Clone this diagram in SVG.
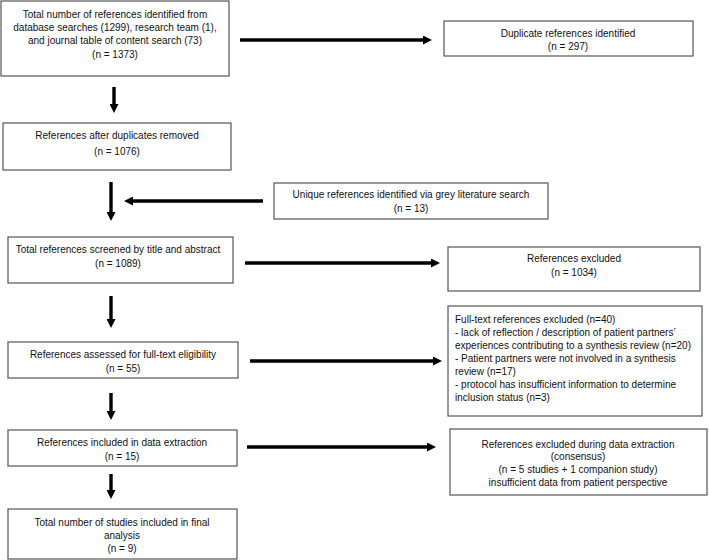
<svg xmlns="http://www.w3.org/2000/svg" width="709" height="560" viewBox="0 0 709 560">
<style>
rect.box{fill:#fff;stroke:#555;stroke-width:1.2}
text{font-family:"Liberation Sans",Arial,sans-serif;font-size:10px;fill:#111;text-anchor:middle}
text.l{text-anchor:start}
.conn line{stroke:#000;stroke-width:3.4}
</style>
<defs>
<marker id="ah" viewBox="0 0 10 10" refX="0" refY="5" markerWidth="9" markerHeight="9" markerUnits="userSpaceOnUse" orient="auto">
<path d="M0,0 L10,5 L0,10 z" fill="#000"/>
</marker>
</defs>
<rect width="709" height="560" fill="#fff"/>
<g class="conn">
<line x1="240" y1="40" x2="423" y2="40" marker-end="url(#ah)"/>
<line x1="114" y1="87" x2="114" y2="104" marker-end="url(#ah)"/>
<line x1="111" y1="182" x2="111" y2="212" marker-end="url(#ah)"/>
<line x1="263" y1="201" x2="133" y2="201" marker-end="url(#ah)"/>
<line x1="245" y1="263" x2="431" y2="263" marker-end="url(#ah)"/>
<line x1="111" y1="296" x2="111" y2="319" marker-end="url(#ah)"/>
<line x1="250" y1="361" x2="433" y2="361" marker-end="url(#ah)"/>
<line x1="111" y1="393" x2="111" y2="411" marker-end="url(#ah)"/>
<line x1="247" y1="447" x2="427" y2="447" marker-end="url(#ah)"/>
<line x1="111" y1="474" x2="111" y2="490" marker-end="url(#ah)"/>
</g>
<g id="n1"><rect class="box" x="1" y="1" width="228" height="75"/>
<text x="115" y="18">Total number of references identified from</text>
<text x="115" y="31">database searches (1299), research team (1),</text>
<text x="115" y="44">and journal table of content search (73)</text>
<text x="115" y="58">(n = 1373)</text></g>
<g id="n2"><rect class="box" x="444" y="21" width="249" height="35"/>
<text x="568" y="37">Duplicate references identified</text>
<text x="568" y="50">(n = 297)</text></g>
<g id="n3"><rect class="box" x="3" y="123" width="228" height="47"/>
<text x="117" y="139">References after duplicates removed</text>
<text x="117" y="155">(n = 1076)</text></g>
<g id="n4"><rect class="box" x="274" y="183" width="274" height="36"/>
<text x="411" y="198">Unique references identified via grey literature search</text>
<text x="411" y="212">(n = 13)</text></g>
<g id="n5"><rect class="box" x="8" y="237" width="225" height="46"/>
<text x="118" y="253">Total references screened by title and abstract</text>
<text x="118" y="267">(n = 1089)</text></g>
<g id="n6"><rect class="box" x="448" y="247" width="252" height="44"/>
<text x="574" y="262">References excluded</text>
<text x="574" y="276">(n = 1034)</text></g>
<g id="n7"><rect class="box" x="8" y="342" width="230" height="36"/>
<text x="123" y="358">References assessed for full-text eligibility</text>
<text x="123" y="372">(n = 55)</text></g>
<g id="n8"><rect class="box" x="448" y="306" width="254" height="110"/>
<text class="l" x="455" y="323">Full-text references excluded (n=40)</text>
<text class="l" x="455" y="336">- lack of reflection / description of patient partners’</text>
<text class="l" x="455" y="349">experiences contributing to a synthesis review (n=20)</text>
<text class="l" x="455" y="362">- Patient partners were not involved in a synthesis</text>
<text class="l" x="455" y="375">review (n=17)</text>
<text class="l" x="455" y="388">- protocol has insufficient information to determine</text>
<text class="l" x="455" y="401">inclusion status (n=3)</text></g>
<g id="n9"><rect class="box" x="8" y="430" width="229" height="36"/>
<text x="122" y="446">References included in data extraction</text>
<text x="122" y="460">(n = 15)</text></g>
<g id="n10"><rect class="box" x="450" y="429" width="257" height="66"/>
<text x="578" y="448">References excluded during data extraction</text>
<text x="578" y="460">(consensus)</text>
<text x="578" y="473">(n = 5 studies + 1 companion study)</text>
<text x="578" y="486">insufficient data from patient perspective</text></g>
<g id="n11"><rect class="box" x="8" y="509" width="229" height="50"/>
<text x="122" y="526">Total number of studies included in final</text>
<text x="122" y="539">analysis</text>
<text x="122" y="552">(n = 9)</text></g>
</svg>
